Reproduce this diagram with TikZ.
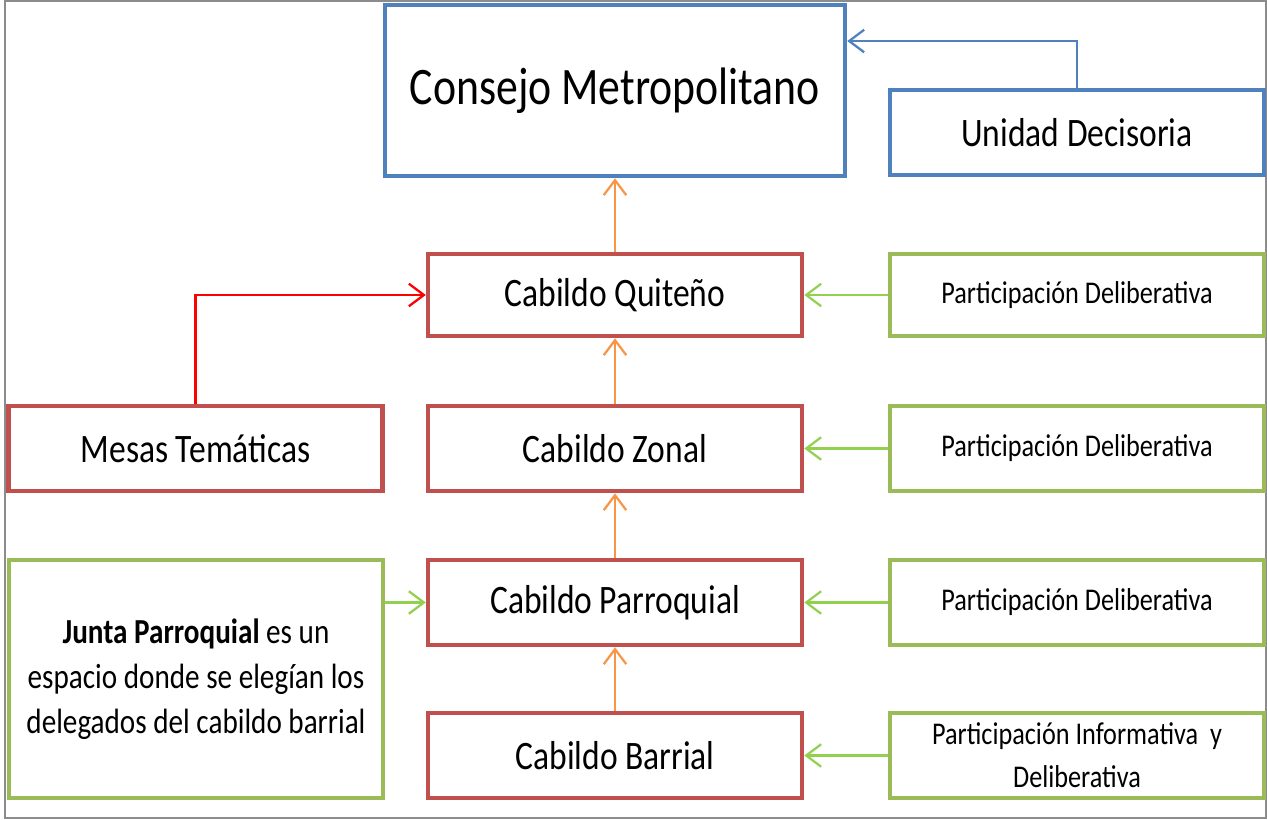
\documentclass[tikz,border=0pt]{standalone}
\usepackage{fontspec}
\setmainfont{Carlito}[FakeStretch=0.83]
\usetikzlibrary{arrows.meta}
\definecolor{boxblue}{HTML}{4F81BD}
\definecolor{boxred}{HTML}{C0504D}
\definecolor{boxgreen}{HTML}{9BBB59}
\definecolor{linkorange}{HTML}{F79646}
\definecolor{linkgreen}{HTML}{92D050}
\definecolor{framegray}{HTML}{8C8C8C}
\begin{document}
\begin{tikzpicture}[x=0.02cm,y=-0.02cm,
    box/.style={draw,line width=2.6pt,minimum width=7.48cm,minimum height=1.7cm,align=center,fill=white},
    bluebox/.style={box,draw=boxblue},
    redbox/.style={box,draw=boxred},
    greenbox/.style={box,draw=boxgreen},
    link/.style={line width=1.3pt,-{Straight Barb[length=0.3cm,width=0.45cm]}},
    big/.style={font=\fontsize{23}{28}\selectfont},
    small/.style={font=\fontsize{18}{24.5}\selectfont}]
    \useasboundingbox (0,0) rectangle (1267,820);
    \draw[framegray,line width=0.8pt] (5,1) rectangle (1266,818);

    % top level
    \node[bluebox,minimum width=9.2cm,minimum height=3.42cm,font=\fontsize{30}{36}\selectfont] (consejo) at (615,90.5) {Consejo Metropolitano};
    \node[bluebox,big] (unidad) at (1077,132.5) {Unidad Decisoria};

    % cabildos
    \node[redbox,big,minimum height=1.64cm] (quiteno) at (615,295) {Cabildo Quiteño};
    \node[redbox,big] (zonal) at (615,448.5) {Cabildo Zonal};
    \node[redbox,big] (parroquial) at (615,602.5) {Cabildo Parroquial};
    \node[redbox,big] (barrial) at (615,755.5) {Cabildo Barrial};

    % participacion
    \node[greenbox,small,minimum height=1.64cm] (delib1) at (1077,295) {Participación Deliberativa};
    \node[greenbox,small] (delib2) at (1077,448.5) {Participación Deliberativa};
    \node[greenbox,small] (delib3) at (1077,602.5) {Participación Deliberativa};
    \node[greenbox,small] (inform) at (1077,755.5) {Participación Informativa~ y\\Deliberativa};

    % left side
    \node[redbox,big] (mesas) at (195.5,448.5) {Mesas Temáticas};
    \node[greenbox,minimum height=4.76cm,font=\fontsize{20}{25.5}\selectfont] (junta) at (196,679)
        {\textbf{Junta Parroquial} es un\\espacio donde se elegían los\\delegados del cabildo barrial};

    % links
    \draw[link,boxblue] (unidad.north) |- ([yshift=0.99cm]consejo.east);
    \draw[link,linkorange] (quiteno.north) -- (consejo.south);
    \draw[link,linkorange] (zonal.north) -- (quiteno.south);
    \draw[link,linkorange] (parroquial.north) -- (zonal.south);
    \draw[link,linkorange] (barrial.north) -- (parroquial.south);
    \draw[link,red] (mesas.north) |- (quiteno.west);
    \draw[link,linkgreen] (junta.east |- parroquial.west) -- (parroquial.west);
    \draw[link,linkgreen] (delib1.west) -- (quiteno.east);
    \draw[link,linkgreen] (delib2.west) -- (zonal.east);
    \draw[link,linkgreen] (delib3.west) -- (parroquial.east);
    \draw[link,linkgreen] (inform.west) -- (barrial.east);
\end{tikzpicture}
\end{document}
